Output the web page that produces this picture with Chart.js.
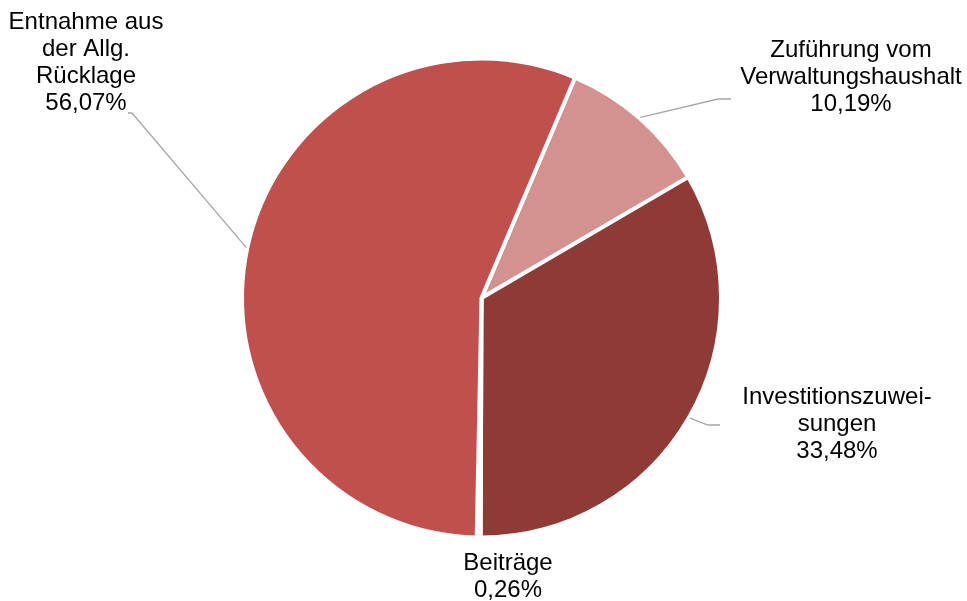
<!DOCTYPE html>
<html>
<head>
<meta charset="utf-8">
<script src="https://cdn.jsdelivr.net/npm/chart.js@4"></script>
<style>
  html, body { margin: 0; padding: 0; background: #fff; }
  #wrap { width: 967px; height: 601px; }
</style>
</head>
<body>
<div id="wrap"><canvas id="Pie" width="967" height="601"></canvas></div>
<script>
const labels = [
    ['Zuführung vom', 'Verwaltungshaushalt'],
    ['Investitionszuwei-', 'sungen'],
    ['Beiträge'],
    ['Entnahme aus', 'der Allg.', 'Rücklage']
];
const values = [10.19, 33.48, 0.26, 56.07];
const valueTexts = ['10,19%', '33,48%', '0,26%', '56,07%'];
const colors = ['#D39290', '#8E3A37', '#F2DCDB', '#C0504D'];

// label block placement (center x, first line y) and leader elbow for each slice
const labelPos = [
    { x: 851, y: 50, elbow: [718, 99, 731, 99] },
    { x: 837, y: 397, elbow: [708, 425, 720, 425] },
    { x: 508, y: 563, elbow: null },
    { x: 86, y: 22, elbow: [132, 113, 128, 113] }
];

const pieLabels = {
    id: 'pieLabels',
    afterDatasetsDraw(chart) {
        const ctx = chart.ctx;
        const meta = chart.getDatasetMeta(0);
        ctx.save();
        meta.data.forEach((arc, i) => {
            const p = labelPos[i];
            const mid = (arc.startAngle + arc.endAngle) / 2;
            if (p.elbow) {
                const sx = arc.x + Math.cos(mid) * (arc.outerRadius + 1);
                const sy = arc.y + Math.sin(mid) * (arc.outerRadius + 1);
                ctx.strokeStyle = '#A6A6A6';
                ctx.lineWidth = 1.3;
                ctx.beginPath();
                ctx.moveTo(sx, sy);
                ctx.lineTo(p.elbow[0], p.elbow[1]);
                ctx.lineTo(p.elbow[2], p.elbow[3]);
                ctx.stroke();
            }
            ctx.fillStyle = '#000';
            ctx.font = '24px "Liberation Sans", Arial, sans-serif';
            ctx.textAlign = 'center';
            ctx.textBaseline = 'middle';
            const lines = labels[i].concat([valueTexts[i]]);
            lines.forEach((t, k) => ctx.fillText(t, p.x, p.y + k * 27));
        });
        ctx.restore();
    }
};

const ctx = document.getElementById('Pie').getContext('2d');
const Pie = new Chart(ctx, {
    type: 'pie',
    data: {
        labels: labels.map(l => l.join(' ')),
        datasets: [{
            data: values,
            backgroundColor: colors,
            borderColor: '#FFFFFF',
            borderWidth: 4
        }]
    },
    options: {
        responsive: false,
        animation: false,
        rotation: 23,
        layout: { padding: { left: 240, right: 244, top: 55, bottom: 60 } },
        plugins: {
            legend: { display: false },
            tooltip: { enabled: false }
        }
    },
    plugins: [pieLabels]
});
</script>
</body>
</html>
